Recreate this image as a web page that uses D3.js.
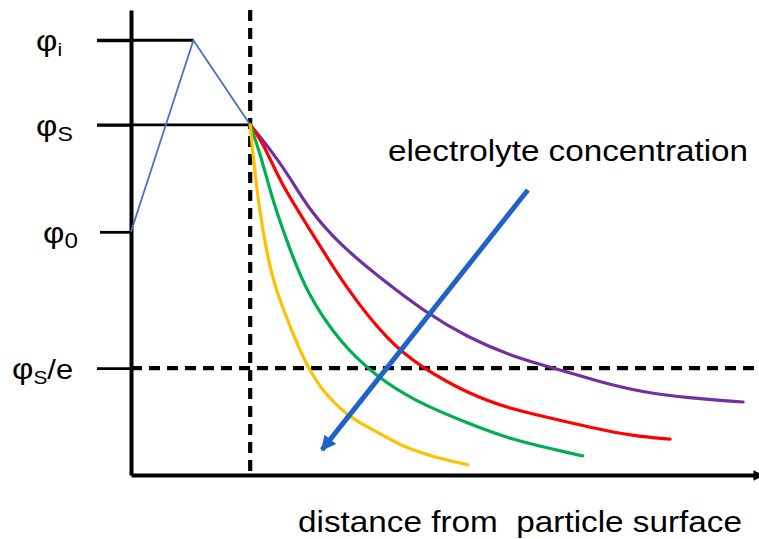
<!DOCTYPE html>
<html>
<head>
<meta charset="utf-8">
<script src="https://cdn.jsdelivr.net/npm/d3@7"></script>
<style>
  html, body { margin: 0; padding: 0; background: #fff; }
  svg { display: block; font-family: "Liberation Sans", Arial, sans-serif; }
</style>
</head>
<body>
<svg id="chart" width="759" height="539"></svg>
<script>
// Potential profile near a charged particle surface (arbitrary units)
const surfaceX = 19.1;      // particle surface / Stern plane
const innerX = 10;          // inner Helmholtz plane
const phiLevels = [
  { key: "i",  value: 93.5, main: "φ", sub: "i" },
  { key: "s",  value: 75.3, main: "φ", sub: "S" },
  { key: "0",  value: 52.3, main: "φ", sub: "0" },
  { key: "se", value: 23.0, main: "φ", sub: "S", tail: "/e" }
];

// Stern layer potential: surface charge -> inner plane -> Stern plane
const sternX = [0, innerX, surfaceX];
const sternY = [52.3, 93.5, 75.3];

// Diffuse-layer decay, one curve per electrolyte concentration (low -> high)
const purpleX = [19.1, 22.8, 25.5, 28.7, 33.5, 39.9, 47.4, 53.8, 61.2, 68.8, 75.2, 82.0, 89.1, 98.1];
const purpleY = [75.3, 69.2, 63.9, 56.8, 49.5, 42.4, 34.8, 29.7, 25.4, 22.6, 20.0, 17.8, 16.6, 15.7];
const redX    = [19.1, 21.2, 23.9, 28.2, 34.6, 41.5, 46.3, 53.8, 61.2, 68.8, 74.0, 80.4, 86.4];
const redY    = [75.3, 71.4, 63.0, 53.8, 39.8, 28.4, 23.4, 17.6, 14.0, 11.8, 10.1, 8.4, 7.7];
const greenX  = [19.1, 20.7, 22.8, 25.5, 28.2, 33.5, 39.4, 45.2, 53.8, 61.2, 68.8, 72.4];
const greenY  = [75.3, 69.2, 58.5, 48.4, 39.1, 28.4, 21.1, 16.1, 11.2, 7.5, 5.2, 4.1];
const yellowX = [19.1, 19.9, 21.0, 22.6, 25.5, 28.2, 31.4, 35.6, 39.9, 43.6, 49.0, 54.0];
const yellowY = [75.3, 64.1, 53.3, 41.9, 31.8, 23.2, 16.8, 11.8, 9.0, 6.0, 3.7, 2.2];
const curveColors = ["#7030a0", "#ff0000", "#00b050", "#ffc000"];

// Arrow showing increasing electrolyte concentration
const arrowFrom = [63.6, 61.3];
const arrowTo   = [30.6, 5.4];

const chartTitle = "electrolyte concentration";
const xTitle = "distance from  particle surface";

const svg = d3.select("#chart");
const x = d3.scaleLinear().domain([0, 100]).range([131, 755]);
const y = d3.scaleLinear().domain([0, 100]).range([475, 10]);

const defs = svg.append("defs");
defs.append("marker")
  .attr("id", "axisHead").attr("viewBox", "0 0 10 10")
  .attr("refX", 2).attr("refY", 5)
  .attr("markerWidth", 2.6).attr("markerHeight", 2.6)
  .attr("markerUnits", "strokeWidth").attr("orient", "auto")
  .append("path").attr("d", "M0,0 L10,5 L0,10 Z").attr("fill", "#000");
defs.append("marker")
  .attr("id", "blueHead").attr("viewBox", "0 0 10 10")
  .attr("refX", 9).attr("refY", 5)
  .attr("markerWidth", 3.4).attr("markerHeight", 3)
  .attr("markerUnits", "strokeWidth").attr("orient", "auto")
  .append("path").attr("d", "M0,0 L10,5 L0,10 Z").attr("fill", "#1f63c6");

// Horizontal guide lines for φi and φS reaching to the Stern model
svg.append("line")
  .attr("x1", x(0) - 34).attr("x2", x(innerX))
  .attr("y1", y(phiLevels[0].value)).attr("y2", y(phiLevels[0].value))
  .attr("stroke", "#000").attr("stroke-width", 2.8);
svg.append("line")
  .attr("x1", x(0) - 34).attr("x2", x(surfaceX))
  .attr("y1", y(phiLevels[1].value)).attr("y2", y(phiLevels[1].value))
  .attr("stroke", "#000").attr("stroke-width", 2.8);

// Dashed guides: surface plane and φS/e level
svg.append("line")
  .attr("x1", x(surfaceX)).attr("x2", x(surfaceX))
  .attr("y1", y(100)).attr("y2", y(0))
  .attr("stroke", "#000").attr("stroke-width", 4.2)
  .attr("stroke-dasharray", "11,7");
svg.append("line")
  .attr("x1", x(0)).attr("x2", x(100))
  .attr("y1", y(phiLevels[3].value)).attr("y2", y(phiLevels[3].value))
  .attr("stroke", "#000").attr("stroke-width", 4.2)
  .attr("stroke-dasharray", "11,7");

// Y axis with potential ticks
const yAxis = d3.axisLeft(y)
  .tickValues(phiLevels.map(d => d.value))
  .tickSizeInner(34).tickSizeOuter(0)
  .tickFormat("");
const gy = svg.append("g").attr("transform", `translate(${x(0)},0)`).call(yAxis);
gy.select(".domain").attr("stroke", "#000").attr("stroke-width", 4);
gy.selectAll(".tick line").attr("stroke", "#000").attr("stroke-width", 2.8);
gy.selectAll(".tick").filter(d => d === 52.3).select("line").attr("x2", -31);

// X axis with arrowhead
const xAxis = d3.axisBottom(x).tickValues([]).tickSizeOuter(0);
const gx = svg.append("g").attr("transform", `translate(0,${y(0)})`).call(xAxis);
gx.select(".domain").attr("stroke", "#000").attr("stroke-width", 4)
  .attr("marker-end", "url(#axisHead)");

// Tick labels with subscripts (slightly widened glyphs)
const labelX = { i: 36, s: 36, "0": 43, se: 12 };
const subSize = { i: 19, s: 21, "0": 22, se: 19 };
phiLevels.forEach(d => {
  const t = svg.append("text")
    .attr("transform", `translate(${labelX[d.key]},${y(d.value) + 11}) scale(1.1,1)`)
    .attr("fill", "#000")
    .attr("font-size", 30);
  t.append("tspan").text(d.main);
  t.append("tspan").attr("font-size", subSize[d.key]).attr("dy", 5).text(d.sub);
  if (d.tail) t.append("tspan").attr("font-size", 28).attr("dy", -5).text(d.tail);
});

// Stern layer potential
const line = d3.line().x(d => x(d[0])).y(d => y(d[1]));
svg.append("path")
  .attr("d", line(d3.zip(sternX, sternY)))
  .attr("fill", "none").attr("stroke", "#4472c4").attr("stroke-width", 1.8);

// Diffuse-layer curves
const smooth = d3.line().x(d => x(d[0])).y(d => y(d[1])).curve(d3.curveBasis);
const series = [d3.zip(purpleX, purpleY), d3.zip(redX, redY), d3.zip(greenX, greenY), d3.zip(yellowX, yellowY)];
svg.append("g").selectAll("path")
  .data(series)
  .join("path")
  .attr("d", smooth)
  .attr("fill", "none")
  .attr("stroke", (d, i) => curveColors[i])
  .attr("stroke-width", 3.2)
  .attr("stroke-linecap", "round");

// Concentration arrow
svg.append("line")
  .attr("x1", x(arrowFrom[0])).attr("y1", y(arrowFrom[1]))
  .attr("x2", x(arrowTo[0])).attr("y2", y(arrowTo[1]))
  .attr("stroke", "#1f63c6").attr("stroke-width", 5)
  .attr("stroke-linecap", "butt")
  .attr("marker-end", "url(#blueHead)");

// Annotations
svg.append("text")
  .attr("x", 388).attr("y", 161)
  .attr("font-size", 30).attr("fill", "#000")
  .attr("textLength", 360).attr("lengthAdjust", "spacingAndGlyphs")
  .text(chartTitle);
svg.append("text")
  .attr("x", 298).attr("y", 532)
  .attr("font-size", 30).attr("fill", "#000")
  .style("white-space", "pre")
  .attr("textLength", 444).attr("lengthAdjust", "spacingAndGlyphs")
  .text(xTitle);
</script>
</body>
</html>
